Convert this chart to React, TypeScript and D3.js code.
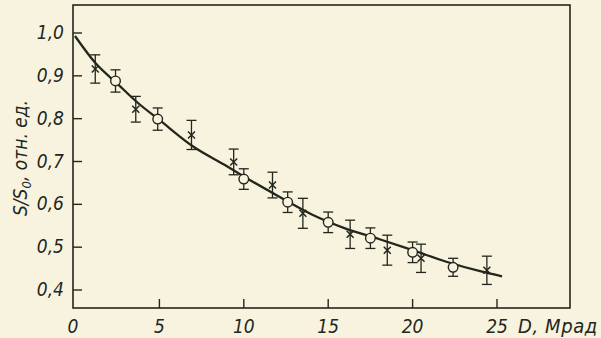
import * as d3 from "d3";

// curve
const curveD = [0, 1.25, 2.5, 3.75, 5, 7, 9, 10, 12, 14, 16, 18, 20, 22, 24, 25.3];
const curveV = [0.993, 0.928, 0.882, 0.836, 0.797, 0.735, 0.689, 0.665, 0.62, 0.577, 0.544, 0.519, 0.493, 0.466, 0.444, 0.432];

// crosses
const crossD = [1.2, 3.6, 6.9, 9.4, 11.7, 13.5, 16.3, 18.5, 20.5, 24.4];
const crossV = [0.916, 0.822, 0.762, 0.699, 0.645, 0.579, 0.53, 0.493, 0.474, 0.446];
const crossErr = [0.033, 0.03, 0.034, 0.03, 0.03, 0.035, 0.033, 0.035, 0.033, 0.033];

// circles
const circleD = [2.4, 4.9, 10.0, 12.6, 15.0, 17.5, 20.0, 22.4];
const circleV = [0.888, 0.799, 0.659, 0.605, 0.558, 0.521, 0.488, 0.453];
const circleErr = [0.026, 0.026, 0.024, 0.024, 0.024, 0.024, 0.024, 0.021];

const xTicks = [0, 5, 10, 15, 20, 25];
const yTicks = [0.4, 0.5, 0.6, 0.7, 0.8, 0.9, 1.0];

const width = 601;
const height = 338;
const paper = "#f7f3de";
const ink = "#23261d";
const font = "'DejaVu Sans Condensed', 'DejaVu Sans', sans-serif";

export default function App() {
  const x = d3.scaleLinear([0, 25], [75, 497]);
  const y = d3.scaleLinear([0.4, 1.0], [290, 33]);

  // frame
  const left = 73, right = 570, top = 5, bottom = 308;

  const line = d3.line<number>()
    .x((d, i) => x(curveD[i]))
    .y((d) => y(d))
    .curve(d3.curveMonotoneX);

  const fmt = (v: number) => v.toFixed(1).replace(".", ",");
  const cap = 5;

  const errBar = (px: number, v: number, e: number, k: string) => (
    <g key={k} stroke={ink} strokeWidth={1.3}>
      <line x1={px} x2={px} y1={y(v + e)} y2={y(v - e)} />
      <line x1={px - cap} x2={px + cap} y1={y(v + e)} y2={y(v + e)} />
      <line x1={px - cap} x2={px + cap} y1={y(v - e)} y2={y(v - e)} />
    </g>
  );

  return (
    <svg width={width} height={height} style={{ position: "absolute", left: 0, top: 0 }}>
      <rect width={width} height={height} fill={paper} />

      {/* frame */}
      <rect x={left} y={top} width={right - left} height={bottom - top}
        fill="none" stroke={ink} strokeWidth={1.6} />

      {/* y ticks */}
      {yTicks.map((t) => (
        <g key={"y" + t}>
          <line x1={left} x2={left + 9} y1={y(t)} y2={y(t)} stroke={ink} strokeWidth={1.4} />
          <text x={64} y={y(t) + 6} textAnchor="end" fontFamily={font} fontStyle="italic"
            fontSize={19} fill={ink}>{fmt(t)}</text>
        </g>
      ))}

      {/* x ticks */}
      {xTicks.map((t) => (
        <g key={"x" + t}>
          {t > 0 && <line x1={x(t)} x2={x(t)} y1={bottom} y2={bottom - 9} stroke={ink} strokeWidth={1.4} />}
          <text x={t === 0 ? 73 : x(t)} y={333} textAnchor="middle" fontFamily={font} fontStyle="italic"
            fontSize={19} fill={ink}>{t}</text>
        </g>
      ))}

      {/* axis titles */}
      <text x={518} y={333} fontFamily={font} fontStyle="italic" fontSize={20} letterSpacing={0.6}
        fill={ink}>D, Мрад</text>
      <text transform="translate(27,158) rotate(-90)" textAnchor="middle" fontFamily={font}
        fontStyle="italic" fontSize={19} fill={ink}>
        S/S<tspan fontSize={13} dy={4}>0</tspan><tspan dy={-4}>, отн. ед.</tspan>
      </text>

      {/* fitted curve */}
      <path d={line(curveV) || ""} fill="none" stroke={ink} strokeWidth={2.3} />

      {/* crosses */}
      {crossD.map((d, i) => {
        const px = x(d), py = y(crossV[i]), s = 3.5;
        return (
          <g key={"c" + i}>
            {errBar(px, crossV[i], crossErr[i], "ce" + i)}
            <path d={`M${px - s},${py - s}L${px + s},${py + s}M${px - s},${py + s}L${px + s},${py - s}`}
              stroke={ink} strokeWidth={1.5} />
          </g>
        );
      })}

      {/* circles */}
      {circleD.map((d, i) => (
        <g key={"o" + i}>
          {errBar(x(d), circleV[i], circleErr[i], "oe" + i)}
          <circle cx={x(d)} cy={y(circleV[i])} r={4.8} fill={paper} stroke={ink} strokeWidth={1.4} />
        </g>
      ))}
    </svg>
  );
}
